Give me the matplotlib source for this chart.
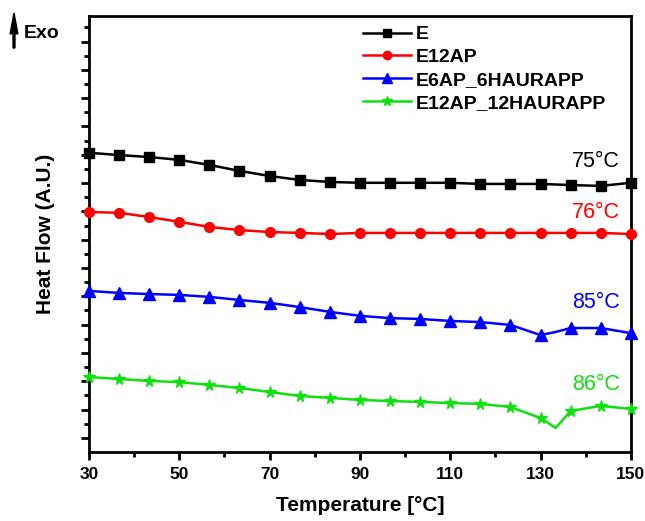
import matplotlib
matplotlib.use('Agg')
import matplotlib.pyplot as plt
from matplotlib.patches import FancyArrow
from matplotlib.ticker import NullFormatter

plt.rcParams['font.family'] = ['Liberation Sans', 'DejaVu Sans']

# temperature (degC), markers every 20/3 deg, plus one extra point at the 133 deg dip
temp = [30, 36.67, 43.33, 50, 56.67, 63.33, 70, 76.67, 83.33, 90, 96.67,
        103.33, 110, 116.67, 123.33, 130, 133.33, 136.67, 143.33, 150]
dip_idx = 16  # no marker at this point

# heat flow, arbitrary units (offset curves)
hf_E = [10.57, 10.49, 10.42, 10.32, 10.14, 9.93, 9.75, 9.61, 9.54, 9.51, 9.51,
        9.51, 9.51, 9.47, 9.47, 9.47, 9.45, 9.43, 9.40, 9.51]
hf_E12AP = [8.48, 8.45, 8.30, 8.13, 7.95, 7.84, 7.77, 7.74, 7.70, 7.74, 7.74,
            7.74, 7.74, 7.74, 7.74, 7.74, 7.74, 7.74, 7.74, 7.70]
hf_E6AP = [5.69, 5.62, 5.58, 5.55, 5.48, 5.37, 5.27, 5.12, 4.95, 4.81, 4.73,
           4.70, 4.63, 4.59, 4.49, 4.13, 4.24, 4.38, 4.38, 4.20]
hf_E12AP12 = [2.65, 2.58, 2.51, 2.47, 2.37, 2.26, 2.12, 1.98, 1.91, 1.84, 1.80,
              1.77, 1.73, 1.70, 1.59, 1.20, 0.85, 1.45, 1.63, 1.52]

names = ['E', 'E12AP', 'E6AP_6HAURAPP', 'E12AP_12HAURAPP']
colors = ['black', '#ff0000', '#0000ff', '#10e010']
markers = ['s', 'o', '^', '*']
msizes = [6.5, 7, 8, 8.5]
tg_labels = ['75°C', '76°C', '85°C', '86°C']
tg_y = [10.25, 8.45, 5.27, 2.37]

xticks = [30, 50, 70, 90, 110, 130, 150]
xminor = [40, 60, 80, 100, 120, 140]

mark_idx = [i for i in range(len(temp)) if i != dip_idx]

fig = plt.figure(figsize=(6.45, 5.21), dpi=100)
ax = fig.add_axes([0.138, 0.1324, 0.840, 0.8368])

for y, name, c, m, ms in zip([hf_E, hf_E12AP, hf_E6AP, hf_E12AP12], names, colors, markers, msizes):
    ax.plot(temp, y, color=c, marker=m, markersize=ms, lw=1.8, label=name,
            markevery=mark_idx, clip_on=False, zorder=3)

for t, ty, c in zip(tg_labels, tg_y, colors):
    ax.text(147.6, ty, t, color=c, fontsize=15.5, ha='right', va='center')

ax.set_xlim(30, 150)
ax.set_ylim(0, 15.4)
ax.set_xticks(xticks)
ax.set_xticks(xminor, minor=True)
ax.set_yticks([0.5 + k for k in range(15)])
ax.set_yticks([k * 1.0 for k in range(1, 16)], minor=True)
ax.yaxis.set_major_formatter(NullFormatter())

ax.tick_params(which='both', direction='out', width=2, top=False, right=False)
ax.tick_params(which='major', length=6)
ax.tick_params(which='minor', length=3.5)
ax.tick_params(axis='x', labelsize=12.5, pad=5)
for lab in ax.get_xticklabels():
    lab.set_fontweight('bold')
for s in ax.spines.values():
    s.set_linewidth(2)

ax.set_xlabel('Temperature [°C]', fontsize=15, fontweight='bold', labelpad=10)
ax.set_ylabel('Heat Flow (A.U.)', fontsize=15, fontweight='bold', labelpad=15)

leg = ax.legend(loc='upper left', bbox_to_anchor=(0.473, 1.018), frameon=False,
                handlelength=2.5, handletextpad=0.2, labelspacing=0.27,
                prop={'size': 14, 'weight': 'bold'}, markerscale=0.85)

# Exo arrow
fig.patches.append(FancyArrow(
    14 / 645, 1 - 48 / 521, 0, 35 / 521, width=0.003, head_width=0.012,
    head_length=0.04, color='black', transform=fig.transFigure, length_includes_head=True))
fig.text(24 / 645, 1 - 34 / 521, 'Exo', fontsize=14, fontweight='bold', va='center', ha='left')

fig.savefig('out.png', dpi=100)
